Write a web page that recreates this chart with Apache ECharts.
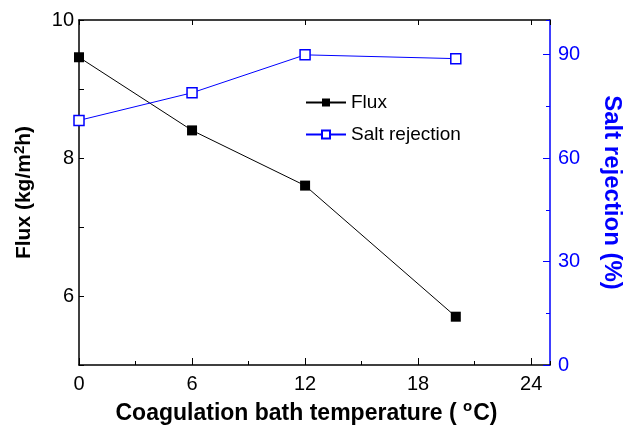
<!DOCTYPE html>
<html>
<head>
<meta charset="utf-8">
<script src="https://cdn.jsdelivr.net/npm/echarts@6/dist/echarts.min.js"></script>
<style>
  html, body { margin: 0; padding: 0; background: #fff; }
  #chart { width: 628px; height: 427px; }
</style>
</head>
<body>
<div id="chart"></div>
<script>
// 凝固浴温度 vs 通量 / 截盐率
const temperature = [0, 6, 12, 20];
const flux = [9.46, 8.40, 7.60, 5.70];
const saltRejection = [70.9, 78.9, 89.9, 88.8];
const xTicks = [0, 6, 12, 18, 24];
const fluxTicks = [6, 8, 10];
const rejectionTicks = [0, 30, 60, 90];

const font = 'Liberation Sans, Arial, sans-serif';

function pairs(xs, ys) {
  return xs.map((x, i) => [x, ys[i]]);
}

let chart = echarts.init(document.getElementById('chart'));

let option = {
  animation: false,
  textStyle: { fontFamily: font },
  grid: { left: 79, right: 78, top: 20, bottom: 62, containLabel: false, outerBoundsMode: 'none' },
  legend: {
    orient: 'vertical',
    left: 300,
    top: 88,
    itemWidth: 40,
    itemHeight: 10,
    itemGap: 13,
    textStyle: { fontSize: 19, color: '#000', fontFamily: font },
    data: ['Flux', 'Salt rejection']
  },
  xAxis: [
    {
      type: 'value', min: 0, max: 25, interval: 6, position: 'bottom',
      name: '{t|Coagulation bath temperature ( }{s|o}{t|C)}',
      nameLocation: 'middle', nameGap: 33,
      nameTextStyle: {
        padding: [0, 16, 0, 0],
        rich: {
          t: { fontSize: 23, fontWeight: 'bold', color: '#000', fontFamily: font },
          s: { fontSize: 15, fontWeight: 'bold', color: '#000', fontFamily: font, verticalAlign: 'top', padding: [0, 1, 14, 0] }
        }
      },
      axisLine: { onZero: false, lineStyle: { color: '#000', width: 1.5 } },
      axisTick: { inside: true, length: 7, lineStyle: { color: '#000' } },
      axisLabel: {
        fontSize: 20, color: '#000', margin: 9, showMaxLabel: false,
        formatter: v => xTicks.includes(v) ? String(v) : ''
      },
      splitLine: { show: false }
    },
    {
      type: 'value', min: 0, max: 25, interval: 3, position: 'bottom',
      axisLine: { show: false, onZero: false },
      axisTick: { inside: true, length: 4, lineStyle: { color: '#000' } },
      axisLabel: { show: false },
      splitLine: { show: false }
    },
    {
      type: 'value', min: 0, max: 25, interval: 6, position: 'top',
      axisLine: { onZero: false, lineStyle: { color: '#000', width: 1.5 } },
      axisTick: { inside: true, length: 5, lineStyle: { color: '#000' } },
      axisLabel: { show: false },
      splitLine: { show: false }
    }
  ],
  yAxis: [
    {
      type: 'value', min: 5, max: 10, interval: 1, position: 'left',
      name: '{t|Flux (kg/m}{s|2}{t|h)}',
      nameLocation: 'middle', nameGap: 42,
      nameTextStyle: {
        rich: {
          t: { fontSize: 21, fontWeight: 'bold', color: '#000', fontFamily: font },
          s: { fontSize: 15, fontWeight: 'bold', color: '#000', fontFamily: font, verticalAlign: 'top', padding: [0, 0, 10, 0] }
        }
      },
      axisLine: { show: true, onZero: false, lineStyle: { color: '#000', width: 1.5 } },
      axisTick: { show: true, inside: true, length: 5, lineStyle: { color: '#000' } },
      axisLabel: {
        fontSize: 20, color: '#000', margin: 5,
        formatter: v => fluxTicks.includes(v) ? String(v) : ''
      },
      splitLine: { show: false }
    },
    {
      type: 'value', min: 0, max: 100, interval: 30, position: 'right',
      name: 'Salt rejection (%)',
      nameLocation: 'middle', nameGap: 50, nameRotate: -90,
      nameTextStyle: { fontSize: 24, fontWeight: 'bold', color: '#0000ff', fontFamily: font },
      axisLine: { show: true, onZero: false, lineStyle: { color: '#0000ff', width: 1.5 } },
      axisTick: { show: true, inside: true, length: 7, lineStyle: { color: '#0000ff' } },
      axisLabel: {
        fontSize: 20, color: '#0000ff', margin: 8, showMaxLabel: false,
        formatter: v => rejectionTicks.includes(v) ? String(v) : ''
      },
      splitLine: { show: false }
    },
    {
      type: 'value', min: 0, max: 100, interval: 15, position: 'right',
      axisLine: { show: false, onZero: false },
      axisTick: { show: true, inside: true, length: 4, lineStyle: { color: '#0000ff' } },
      axisLabel: { show: false },
      splitLine: { show: false }
    }
  ],
  series: [
    {
      name: 'Flux',
      type: 'line',
      xAxisIndex: 0,
      yAxisIndex: 0,
      data: pairs(temperature, flux),
      symbol: 'rect',
      symbolSize: 10,
      itemStyle: { color: '#000' },
      lineStyle: { color: '#000', width: 1 },
      clip: false
    },
    {
      name: 'Salt rejection',
      type: 'line',
      xAxisIndex: 0,
      yAxisIndex: 1,
      data: pairs(temperature, saltRejection),
      symbol: 'rect',
      symbolSize: 10,
      itemStyle: { color: '#fff', borderColor: '#0000ff', borderWidth: 1.5 },
      lineStyle: { color: '#0000ff', width: 1 },
      clip: false
    }
  ]
};

chart.setOption(option);
</script>
</body>
</html>
